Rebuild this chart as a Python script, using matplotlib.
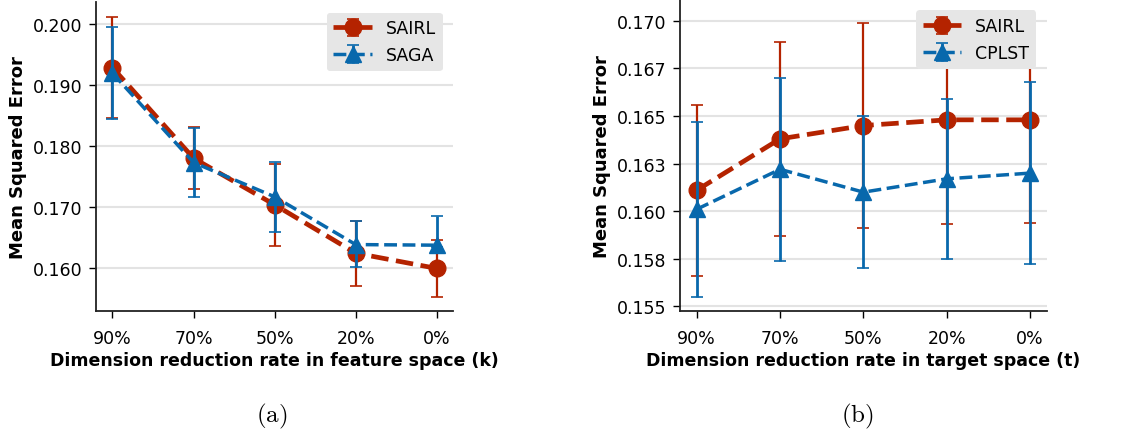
import numpy as np
import matplotlib
matplotlib.use('Agg')
from matplotlib import pyplot as plt

plt.rcParams['mathtext.fontset'] = 'cm'

rates = ['90%', '70%', '50%', '20%', '0%']

# (a) feature space
a_sairl     = [0.1928, 0.1780, 0.1704, 0.1625, 0.1600]
a_sairl_err = [0.0083, 0.0051, 0.0067, 0.0053, 0.0046]
a_saga      = [0.1919, 0.1773, 0.1717, 0.1639, 0.1638]
a_saga_lo   = [0.0075, 0.0056, 0.0057, 0.0036, 0.0003]
a_saga_hi   = [0.0075, 0.0056, 0.0057, 0.0038, 0.0047]

# (b) target space
b_sairl     = [0.1611, 0.1638, 0.1645, 0.1648, 0.1648]
b_sairl_err = [0.0045, 0.0051, 0.0054, 0.0055, 0.0054]
b_cplst     = [0.1601, 0.1622, 0.1610, 0.1617, 0.1620]
b_cplst_err = [0.0046, 0.0048, 0.0040, 0.0042, 0.0048]

a_yticks = [0.160, 0.170, 0.180, 0.190, 0.200]
a_ylabels = ['0.160', '0.170', '0.180', '0.190', '0.200']
b_yticks = [0.155, 0.1575, 0.160, 0.1625, 0.165, 0.1675, 0.170]
b_ylabels = ['0.155', '0.158', '0.160', '0.163', '0.165', '0.167', '0.170']

red = '#b42300'
blue = '#0868ac'

fig = plt.figure(figsize=(11.3, 4.31), dpi=100)
ax1 = fig.add_axes([0.0852, 0.2768, 0.3157, 0.716])
ax2 = fig.add_axes([0.6018, 0.2768, 0.3245, 0.721])

x = np.arange(len(rates))

def draw(ax, y1, e1, y2, e2, lab2, xlabel):
    ax.errorbar(x, y1, yerr=e1, color=red, ecolor=red, ls='--', lw=3.4,
                marker='o', ms=12, elinewidth=1.6, capsize=4, capthick=1.2,
                label='SAIRL', zorder=3)
    ax.errorbar(x, y2, yerr=e2, color=blue, ecolor=blue, ls='--', lw=2.5,
                marker='^', ms=11, elinewidth=2.0, capsize=4, capthick=1.2,
                label=lab2, zorder=4)
    ax.set_xticks(x)
    ax.set_xticklabels(rates)
    ax.set_xlim(-0.2, 4.2)
    ax.grid(axis='y', color='#e3e3e3', lw=1.5)
    ax.set_axisbelow(True)
    for s in ['top', 'right']:
        ax.spines[s].set_visible(False)
    for s in ['left', 'bottom']:
        ax.spines[s].set_linewidth(1.3)
        ax.spines[s].set_color('#222222')
    ax.tick_params(labelsize=12.5, length=5, width=1, pad=5)
    ax.tick_params(axis='x', pad=8)
    ax.set_xlabel(xlabel, fontsize=12.5, fontweight='bold', labelpad=3)
    ax.set_ylabel('Mean Squared Error', fontsize=13, fontweight='bold', labelpad=4)
    ax.legend(loc='upper right', fontsize=12.5, frameon=True,
              facecolor='#e6e6e6', edgecolor='none', framealpha=1,
              borderaxespad=0.6, handlelength=2.2)

draw(ax1, a_sairl, a_sairl_err, a_saga, [a_saga_lo, a_saga_hi], 'SAGA',
     'Dimension reduction rate in feature space (k)')
ax1.set_yticks(a_yticks)
ax1.set_yticklabels(a_ylabels)
ax1.set_ylim(0.1531, 0.2035)

draw(ax2, b_sairl, b_sairl_err, b_cplst, b_cplst_err, 'CPLST',
     'Dimension reduction rate in target space (t)')
ax2.set_yticks(b_yticks)
ax2.set_yticklabels(b_ylabels)
ax2.set_ylim(0.15477, 0.1711)

fig.text(272 / 1130, 0.033, r'$\mathrm{(a)}$', fontsize=18, ha='center', va='center')
fig.text(857 / 1130, 0.033, r'$\mathrm{(b)}$', fontsize=18, ha='center', va='center')

fig.savefig('out.png', dpi=100)
